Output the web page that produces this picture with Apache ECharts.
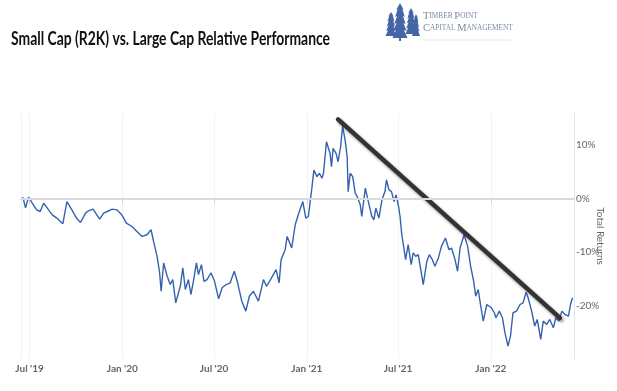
<!DOCTYPE html>
<html><head><meta charset="utf-8">
<script src="https://cdn.jsdelivr.net/npm/echarts@6/dist/echarts.min.js"></script>
<style>html,body{margin:0;padding:0;background:#fff}#c{width:617px;height:391px}</style>
</head><body><div id="c"></div>
<script>
const titleText = 'Small Cap (R2K) vs. Large Cap Relative Performance';
const logoLine1 = [['T','IMBER '],['P','OINT']];
const logoLine2 = [['C','APITAL '],['M','ANAGEMENT']];
const yAxisName = 'Total Returns';
const xTickLabels = ["Jul '19","Jan '20","Jul '20","Jan '21","Jul '21","Jan '22"];
const yTickValues = [10, 0, -10, -20];

const dates = [
'2019-06-14','2019-06-18','2019-06-23','2019-06-29','2019-07-06','2019-07-15','2019-07-22','2019-07-29','2019-08-15','2019-08-24',
'2019-09-05','2019-09-13','2019-09-23','2019-10-02','2019-10-10','2019-10-20','2019-10-26','2019-11-04','2019-11-17','2019-11-25',
'2019-12-02','2019-12-12','2019-12-21','2019-12-31','2020-01-09','2020-01-20','2020-01-30','2020-02-09','2020-02-19','2020-02-27',
'2020-03-03','2020-03-10','2020-03-15','2020-03-18','2020-03-23','2020-03-30','2020-04-05','2020-04-10','2020-04-16','2020-04-25',
'2020-04-30','2020-05-05','2020-05-11','2020-05-16','2020-05-21','2020-05-27','2020-05-31','2020-06-06','2020-06-11','2020-06-17',
'2020-06-25','2020-07-02','2020-07-10','2020-07-17','2020-07-25','2020-08-02','2020-08-10','2020-08-16','2020-08-25','2020-09-02',
'2020-09-09','2020-09-17','2020-09-27','2020-10-07','2020-10-13','2020-10-21','2020-11-01','2020-11-07','2020-11-11','2020-11-19',
'2020-11-23','2020-12-02','2020-12-09','2020-12-15','2020-12-24','2020-12-30','2021-01-04','2021-01-11','2021-01-15','2021-01-21',
'2021-01-26','2021-01-31','2021-02-03','2021-02-09','2021-02-16','2021-02-19','2021-02-22','2021-02-28','2021-03-04','2021-03-09',
'2021-03-13','2021-03-18','2021-03-22','2021-03-24','2021-03-28','2021-04-02','2021-04-07','2021-04-11','2021-04-17','2021-04-20',
'2021-04-27','2021-05-03','2021-05-10','2021-05-14','2021-05-18','2021-05-24','2021-05-30','2021-06-05','2021-06-08','2021-06-13',
'2021-06-18','2021-06-23','2021-06-27','2021-07-02','2021-07-05','2021-07-08','2021-07-11','2021-07-16','2021-07-21','2021-07-27',
'2021-07-31','2021-08-05','2021-08-10','2021-08-15','2021-08-20','2021-08-27','2021-09-01','2021-09-07','2021-09-12','2021-09-19',
'2021-09-25','2021-10-03','2021-10-10','2021-10-15','2021-10-22','2021-10-27','2021-11-01','2021-11-09','2021-11-16','2021-11-22',
'2021-11-28','2021-12-02','2021-12-07','2021-12-12','2021-12-17','2021-12-24','2022-01-02','2022-01-08','2022-01-11','2022-01-18',
'2022-01-24','2022-01-29','2022-02-04','2022-02-09','2022-02-14','2022-02-21','2022-02-28','2022-03-06','2022-03-12','2022-03-16',
'2022-03-23','2022-03-29','2022-04-03','2022-04-10','2022-04-15','2022-04-22','2022-04-28','2022-05-05','2022-05-10','2022-05-16',
'2022-05-22','2022-05-28','2022-06-04','2022-06-08','2022-06-12'
];
const values = [
-0.24,0.19,-1.73,0.26,-0.80,-2.11,-2.42,-0.86,-3.04,-3.65,
-4.71,-0.56,-2.11,-3.65,-4.47,-2.72,-2.29,-1.98,-3.84,-2.72,
-2.42,-1.98,-2.11,-3.04,-4.58,-5.22,-6.15,-7.08,-6.76,-5.83,
-8.01,-10.81,-13.9,-17.33,-12.04,-14.53,-16.08,-15.15,-19.49,-16.4,
-12.97,-17.01,-15.15,-17.94,-15.47,-12.04,-14.22,-12.35,-15.47,-15.15,
-13.9,-15.47,-18.74,-16.69,-16.08,-15.76,-13.6,-15.47,-19.19,-21.05,
-18.26,-17.33,-19.19,-15.15,-16.4,-15.15,-13.29,-15.76,-11.42,-9.56,
-7.08,-9.24,-4.9,-3.04,-0.56,-3.65,-3.35,1.94,5.35,4.1,
4.73,3.8,4.73,10.62,8.46,5.96,9.39,8.46,6.89,9.69,
13.55,10.94,7.83,1.3,4.73,4.1,1.0,0.37,-1.17,-3.35,
1.94,-0.56,-3.35,-3.97,-1.79,-3.65,-0.24,1.3,3.48,1.62,
1.3,-0.56,0.69,-1.49,-3.35,-6.45,-8.31,-11.42,-8.63,-12.35,
-10.17,-10.81,-10.49,-13.29,-16.08,-11.74,-10.49,-11.42,-12.67,-11.1,
-8.94,-7.38,-9.56,-9.24,-11.42,-13.6,-9.24,-6.76,-8.94,-12.67,
-15.47,-18.26,-17.01,-20.12,-22.92,-19.81,-20.42,-21.35,-22.28,-21.05,
-22.28,-25.08,-27.58,-25.71,-21.35,-21.05,-19.81,-19.49,-17.51,-18.56,
-21.05,-23.85,-22.6,-26.33,-22.92,-23.53,-22.6,-24.15,-22.28,-22.92,
-21.05,-21.67,-21.99,-19.81,-18.56
];
const trendDates = ['2021-03-04','2022-05-18'];
const trendValues = [14.8, -22.3];

const MONTHS = ['Jan','Feb','Mar','Apr','May','Jun','Jul','Aug','Sep','Oct','Nov','Dec'];
const DAY = 86400000;

// fit title width like the reference
const cv = document.createElement('canvas').getContext('2d');
cv.font = 'bold 18px Lato';
const titleScale = 319 / cv.measureText(titleText).width;

function rich(parts){
  return parts.map(p => '{b|' + p[0] + '}{s|' + p[1] + '}').join('');
}
const logoRich = {
  b: {fontFamily:'Liberation Serif', fontSize:10.5, fill:'#7b8ba3'},
  s: {fontFamily:'Liberation Serif', fontSize:7.3, fill:'#7b8ba3'}
};

const treeColor = '#4565a6';
function tree(cx, top, bottom, w){
  const h = bottom - top;
  const pts = [[cx, top]];
  const tiers = 5;
  const right = [], left = [];
  for (let i = 1; i <= tiers; i++) {
    const y = top + h * i / tiers;
    const half = w / 2 * (0.4 + 0.6 * i / tiers);
    const inner = half * 0.6;
    right.push([cx + half, y]);
    if (i < tiers) right.push([cx + inner, y - 1]);
    left.unshift([cx - half, y]);
    if (i < tiers) left.unshift([cx - inner, y - 1]);
  }
  return {type:'polygon', shape:{points: pts.concat(right, left)}, style:{fill: treeColor}, silent:true};
}

const chart = echarts.init(document.getElementById('c'), null, {renderer:'canvas'});
chart.setOption({
  animation: false,
  backgroundColor: '#fff',
  grid: {left: 21, right: 43, top: 113, bottom: 32, containLabel: false, outerBoundsMode: 'none'},
  graphic: [
    {type:'text', left: 11, top: 30, scaleX: titleScale, style:{text: titleText, font:'bold 18px Lato', fill:'#111'}},
    tree(391, 12, 36, 11),
    tree(411, 8, 34, 11),
    tree(416, 14, 36, 8),
    tree(400, 3, 38, 15),
    {type:'rect', shape:{x:399, y:36, width:2, height:5}, style:{fill:treeColor}},
    {type:'text', x: 423, y: 16, style:{text: rich(logoLine1), rich: logoRich, verticalAlign:'middle'}},
    {type:'text', x: 423, y: 28, style:{text: rich(logoLine2), rich: logoRich, verticalAlign:'middle'}},
    {type:'line', shape:{x1:423, y1:40, x2:511, y2:40}, style:{stroke:'#e3e8cc', lineWidth:1}}
  ],
  xAxis: {
    type: 'time',
    min: '2019-06-14', max: '2022-06-15',
    minInterval: 180 * DAY, maxInterval: 186 * DAY,
    axisLine: {show: true, lineStyle: {color: '#ccd6eb', width: 1}},
    axisTick: {show: true, length: 5, lineStyle: {color: '#ccd6eb'}},
    splitLine: {show: true, lineStyle: {color: '#f3f3f3', width: 1}},
    axisLabel: {
      showMinLabel: false, showMaxLabel: false,
      color: '#666', fontFamily: 'Lato', fontSize: 10, fontWeight: 'bold', margin: 5,
      formatter: function (val) {
        const d = new Date(val);
        const lab = MONTHS[d.getMonth()] + " '" + String(d.getFullYear()).slice(2);
        return (d.getDate() === 1 && xTickLabels.indexOf(lab) >= 0) ? lab : '';
      }
    }
  },
  yAxis: {
    type: 'value', position: 'right',
    min: -30, max: 16, interval: 10,
    axisLine: {show: true, lineStyle: {color: '#dde4f2', width: 1}},
    axisTick: {show: false},
    splitLine: {show: false},
    axisLabel: {
      color: '#666', fontFamily: 'Lato', fontSize: 10, margin: 2,
      formatter: function (v) { return yTickValues.indexOf(v) >= 0 ? v + '%' : ''; }
    },
    name: yAxisName, nameLocation: 'middle', nameRotate: -90, nameGap: 21,
    nameMoveOverlap: false,
    nameTextStyle: {color: '#666', fontFamily: 'Lato', fontSize: 10}
  },
  series: [
    {
      type: 'line', data: [], z: 1, silent: true,
      markLine: {silent: true, symbol: ['none','none'], label: {show: false},
        lineStyle: {color: '#dadada', width: 2, type: 'solid'}, data: [{yAxis: 0}]}
    },
    {
      type: 'line', z: 2, symbol: 'none', silent: true,
      data: dates.map((d, i) => [d, values[i]]),
      lineStyle: {color: '#3463ae', width: 1.4}
    },
    {
      type: 'line', z: 3, symbol: 'none', silent: true,
      data: trendDates.map((d, i) => [d, trendValues[i]]),
      lineStyle: {color: '#333', width: 4.5, cap: 'round',
        shadowBlur: 3, shadowColor: 'rgba(0,0,0,0.45)', shadowOffsetX: 1.5, shadowOffsetY: 2}
    }
  ]
});
</script>
</body></html>
